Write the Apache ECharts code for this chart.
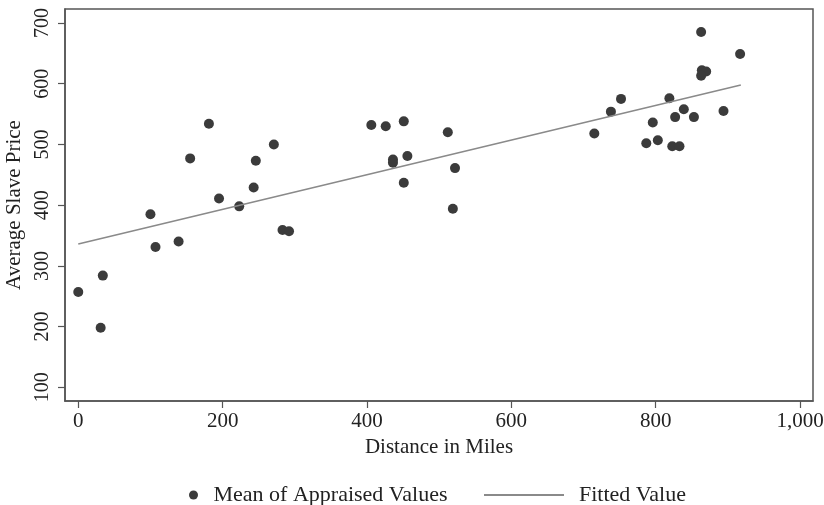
<!DOCTYPE html>
<html>
<head>
<meta charset="utf-8">
<script src="https://cdn.jsdelivr.net/npm/echarts@6/dist/echarts.min.js"></script>
<style>
html,body{margin:0;padding:0;background:#fff;}
#main{width:824px;height:505px;}
</style>
</head>
<body>
<div id="main"></div>
<script>
// points: distance (miles), mean appraised price
var distX = [0, 31, 34, 100, 107, 139, 155, 181, 195, 223, 243, 246, 271, 283, 292,
  406, 426, 436, 436, 451, 451, 456, 512, 519, 522,
  715, 738, 752, 787, 796, 803, 819, 823, 827, 833, 839, 853, 863, 864, 870, 863, 894, 917];
var priceY = [257, 198, 284, 385, 331, 340, 477, 534, 411, 398, 429, 473, 500, 359, 357,
  532, 530, 475, 470, 538, 437, 481, 520, 394, 461,
  518, 554, 575, 502, 536, 507, 576, 497, 545, 497, 558, 545, 685, 622, 620, 613, 555, 649];
// fitted line end points
var fitX = [0, 918];
var fitY = [336, 598];

var xTicks = [0, 200, 400, 600, 800, 1000];
var xTickLabels = ['0', '200', '400', '600', '800', '1,000'];
var yTicks = [100, 200, 300, 400, 500, 600, 700];

var scatterData = [];
for (var i = 0; i < distX.length; i++) {
  scatterData.push([distX[i], priceY[i]]);
}
var fitData = [];
for (var j = 0; j < fitX.length; j++) {
  fitData.push([fitX[j], fitY[j]]);
}

var font = 'Liberation Serif';
var axisCol = '#555';

var chart = echarts.init(document.getElementById('main'));
var option = {
  animation: false,
  backgroundColor: '#fff',
  grid: {
    left: 65, right: 11, top: 9, bottom: 104,
    outerBoundsMode: 'none',
    containLabel: false,
    show: true, borderColor: axisCol, borderWidth: 1.5
  },
  legend: [{
    data: ['Mean of Appraised Values'],
    left: 184, top: 479,
    icon: 'circle',
    itemWidth: 30, itemHeight: 9,
    textStyle: { fontFamily: font, fontSize: 22, color: '#222' }
  }, {
    data: [{ name: 'Fitted Value', icon: 'rect' }],
    left: 479, top: 479,
    itemWidth: 80, itemHeight: 2,
    textStyle: { fontFamily: font, fontSize: 22, color: '#222', padding: [0, 0, 0, 10] }
  }],
  xAxis: {
    type: 'value',
    min: -18.4, max: 1018,
    name: 'Distance in Miles',
    nameLocation: 'middle',
    nameGap: 31,
    nameTextStyle: { fontFamily: font, fontSize: 21, color: '#222' },
    splitLine: { show: false },
    axisLine: { show: true, onZero: false, lineStyle: { color: axisCol, width: 1.5 } },
    axisTick: { show: true, length: 7, customValues: xTicks, lineStyle: { color: axisCol, width: 1.2 } },
    axisLabel: {
      customValues: xTicks,
      margin: 10,
      fontFamily: font, fontSize: 21, color: '#222',
      formatter: function (v) { return xTickLabels[xTicks.indexOf(v)]; }
    }
  },
  yAxis: {
    type: 'value',
    min: 77.5, max: 723,
    name: 'Average Slave Price',
    nameLocation: 'middle',
    nameGap: 35,
    nameTextStyle: { fontFamily: font, fontSize: 21, color: '#222' },
    splitLine: { show: false },
    axisLine: { show: true, onZero: false, lineStyle: { color: axisCol, width: 1.5 } },
    axisTick: { show: true, length: 7, customValues: yTicks, lineStyle: { color: axisCol, width: 1.2 } },
    axisLabel: {
      customValues: yTicks,
      rotate: 90,
      margin: 12,
      fontFamily: font, fontSize: 20, color: '#222'
    }
  },
  series: [{
    name: 'Mean of Appraised Values',
    type: 'scatter',
    symbol: 'circle',
    symbolSize: 10,
    itemStyle: { color: '#3b3b3b', opacity: 1 },
    data: scatterData
  }, {
    name: 'Fitted Value',
    type: 'line',
    showSymbol: false,
    symbol: 'none',
    lineStyle: { color: '#8a8a8a', width: 1.6 },
    itemStyle: { color: '#8a8a8a' },
    data: fitData
  }]
};
chart.setOption(option);
</script>
</body>
</html>
